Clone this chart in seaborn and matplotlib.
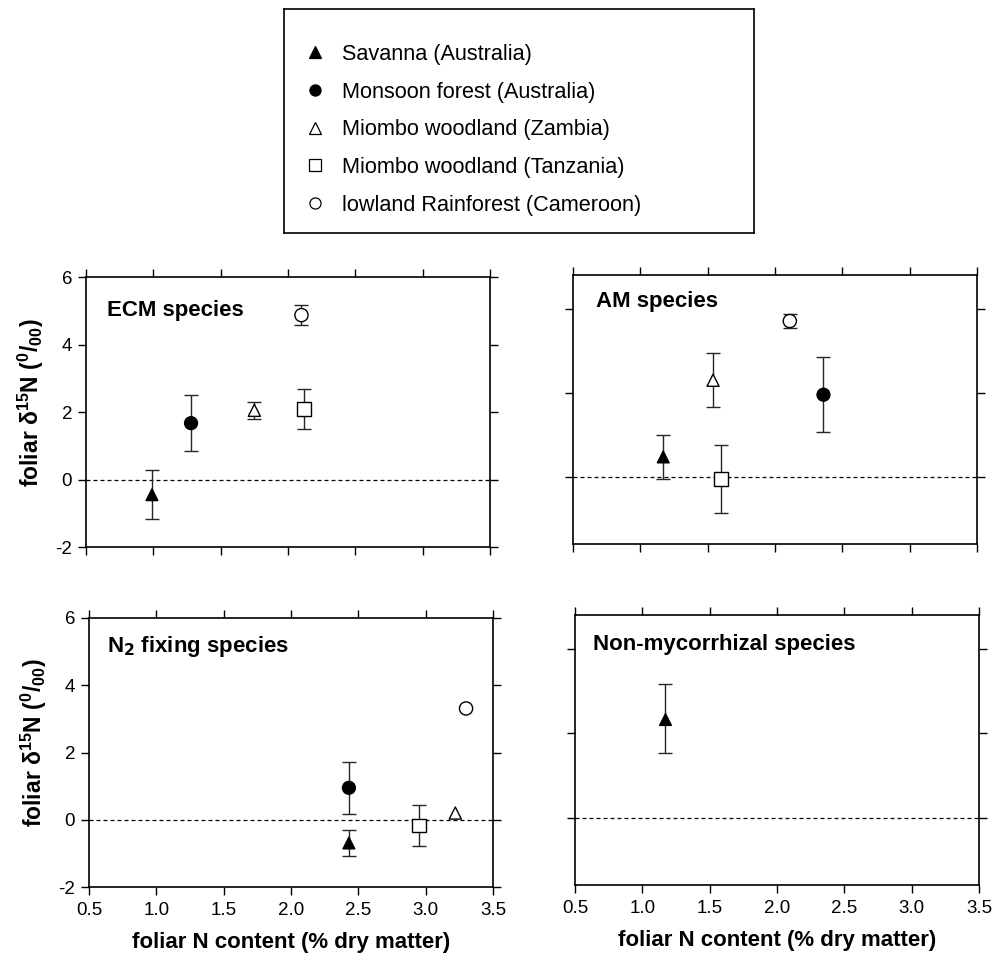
import numpy as np
import pandas as pd
import matplotlib
matplotlib.use("Agg")
import matplotlib.pyplot as plt
from matplotlib.lines import Line2D
import seaborn as sns

# ---------------- data ----------------
sites = ["Savanna (Australia)", "Monsoon forest (Australia)",
         "Miombo woodland (Zambia)", "Miombo woodland (Tanzania)",
         "lowland Rainforest (Cameroon)"]

ecm_x = [0.99, 1.28, 1.75, 2.12, 2.10]
ecm_y = [-0.45, 1.67, 2.05, 2.09, 4.87]
ecm_err = [0.72, 0.84, 0.26, 0.59, 0.30]

am_x = [1.17, 2.36, 1.54, 1.60, 2.11]
am_y = [0.59, 2.44, 2.87, -0.07, 4.63]
am_err = [0.66, 1.12, 0.80, 1.00, 0.21]

n2_x = [2.43, 2.43, 3.22, 2.95, 3.30]
n2_y = [-0.69, 0.95, 0.20, -0.17, 3.31]
n2_err = [0.39, 0.78, np.nan, 0.62, np.nan]

nm_x = [1.17]
nm_y = [2.93]
nm_err = [1.02]
nm_sites = ["Savanna (Australia)"]

panel_titles = ["ECM species", "AM species", r"N$_\mathbf{2}$ fixing species",
                "Non-mycorrhizal species"]
x_ticks = [0.5, 1.0, 1.5, 2.0, 2.5, 3.0, 3.5]
x_ticklabels = ["0.5", "1.0", "1.5", "2.0", "2.5", "3.0", "3.5"]
y_ticks_left = [-2, 0, 2, 4, 6]
y_ticks_right = [0, 2.5, 5]
xlabel = "foliar N content (% dry matter)"
ylabel = r"foliar δ$^{15}$N ($^{0}$/$_{00}$)"

# ---------------- style ----------------
sns.set_theme(style="ticks")
plt.rcParams["font.family"] = ["Liberation Sans", "DejaVu Sans"]
plt.rcParams["mathtext.default"] = "regular"
plt.rcParams["axes.unicode_minus"] = False
for k in ["text.color", "axes.labelcolor", "xtick.color", "ytick.color", "axes.edgecolor"]:
    plt.rcParams[k] = "black"

markers = {sites[0]: "^", sites[1]: "o", sites[2]: "^", sites[3]: "s", sites[4]: "o"}
faces = {sites[0]: "black", sites[1]: "black", sites[2]: "white", sites[3]: "white", sites[4]: "white"}
sizes = {sites[0]: 72, sites[1]: 86, sites[2]: 76, sites[3]: 98, sites[4]: 90}

fig = plt.figure(figsize=(10.04, 9.55), dpi=100)
W, H = 1004, 955


def px_axes(left, top, right, bottom):
    return fig.add_axes([left / W, 1 - bottom / H, (right - left) / W, (bottom - top) / H])


ax1 = px_axes(86, 277, 490, 547)
ax2 = px_axes(573, 275, 977, 544)
ax3 = px_axes(89, 618, 493, 887)
ax4 = px_axes(575, 615, 979, 885)

panels = [
    (ax1, ecm_x, ecm_y, ecm_err, sites, (0.052, 0.856), True, False),
    (ax2, am_x, am_y, am_err, sites, (0.056, 0.882), False, False),
    (ax3, n2_x, n2_y, n2_err, sites, (0.045, 0.8725), True, True),
    (ax4, nm_x, nm_y, nm_err, nm_sites, (0.044, 0.870), False, True),
]

for i, (ax, xs, ys, es, ss, tpos, left_side, bottom_row) in enumerate(panels):
    df = pd.DataFrame({"x": xs, "y": ys, "err": es, "site": ss})
    ax.axhline(0, color="black", lw=0.9, ls=(0, (3.2, 2.4)), zorder=1)
    dfe = df.dropna(subset=["err"])
    ax.errorbar(dfe["x"], dfe["y"], yerr=dfe["err"], fmt="none", ecolor="#262626",
                elinewidth=1.0, capsize=4.8, capthick=1.0, zorder=2)
    sns.scatterplot(data=df, x="x", y="y", hue="site", style="site", size="site",
                    palette={s: faces[s] for s in ss}, markers={s: markers[s] for s in ss},
                    sizes={s: sizes[s] for s in ss}, edgecolor="black", linewidth=1.0,
                    legend=False, ax=ax, zorder=3)
    ax.set_xlim(0.5, 3.5)
    ax.set_ylim(-2, 6)
    ax.set_xticks(x_ticks)
    ax.set_yticks(y_ticks_left if left_side else y_ticks_right)
    ax.tick_params(axis="both", which="both", direction="out", length=6, width=1.0,
                   top=True, right=True, labelsize=13.5, pad=4, color="black",
                   labelcolor="black")
    ax.tick_params(axis="x", pad=5)
    for sp in ax.spines.values():
        sp.set_visible(True)
        sp.set_linewidth(1.2)
        sp.set_color("black")
    if bottom_row:
        ax.set_xticklabels(x_ticklabels)
        ax.set_xlabel(xlabel, fontsize=16, fontweight="bold", labelpad=9, color="black")
    else:
        ax.set_xticklabels([])
        ax.set_xlabel("")
    if left_side:
        ax.set_ylabel(ylabel, fontsize=16.5, fontweight="bold", color="black")
        ax.yaxis.set_label_coords(-0.098, 0.535)
    else:
        ax.set_yticklabels([])
        ax.set_ylabel("")
    ax.text(tpos[0], tpos[1], panel_titles[i], transform=ax.transAxes, fontsize=16,
            fontweight="bold", ha="left", va="baseline", color="black")

# ---------------- legend box ----------------
lax = px_axes(284, 9, 754, 233)
lax.set_xticks([])
lax.set_yticks([])
for sp in lax.spines.values():
    sp.set_visible(True)
    sp.set_linewidth(1.2)
    sp.set_color("black")
handles = [Line2D([], [], ls="none", marker=markers[s], markersize=8 if markers[s] != "s" else 8.5,
                  markerfacecolor=faces[s], markeredgecolor="black", markeredgewidth=0.9)
           for s in sites]
leg = lax.legend(handles, sites, loc="upper left",
                 bbox_to_anchor=(304.0 / W, 1 - 44 / H), bbox_transform=fig.transFigure,
                 frameon=False, fontsize=15.6, handlelength=1.0, handletextpad=0.75,
                 labelspacing=0.77, borderpad=0, borderaxespad=0)
for t in leg.get_texts():
    t.set_color("black")

fig.savefig("out.png", dpi=100)
